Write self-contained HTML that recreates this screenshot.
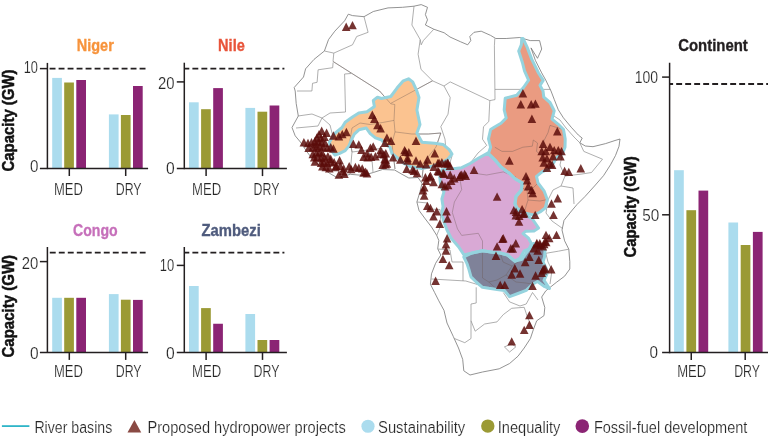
<!DOCTYPE html>
<html lang="en"><head><meta charset="utf-8"><title>Hydropower capacity in African river basins</title>
<style>html,body{margin:0;padding:0;background:#fff;}body{width:768px;height:437px;overflow:hidden;font-family:"Liberation Sans", sans-serif;}svg{display:block;}</style>
</head><body>
<svg width="768" height="437" viewBox="0 0 768 437" font-family='"Liberation Sans", sans-serif'>
<rect width="768" height="437" fill="#ffffff"/>
<polygon points="294.2,87.5 303.5,77 305.6,68.8 314,59.4 324.4,51 328.5,39.6 334.8,31.2 344.6,20.8 348.3,14.2 352.5,15.6 364,16.7 373.3,11.5 388,7.9 402.5,7.3 414,6.2 421.2,4.6 427.5,7.3 425.4,14.6 427.5,19.8 425.4,25 433.8,29.2 444.2,32.8 450,37 460.4,41.7 467.7,44.8 470.8,40.6 469.8,36.5 474,32.3 481.2,31.2 490.6,35.4 495.8,38.5 506.2,38.5 519.8,37.5 530.2,40.6 539.6,40.6 541.7,49 537.5,58.3 531,47.9 535.4,60.4 541.7,72.9 545.8,80.2 551,91 554.2,99.3 558.3,109.8 563.4,117.8 571.2,127.2 578.3,135 582.2,138.1 579.8,142.8 585.3,146 593,146.7 605.6,143.6 615,140.5 620,139 619,146.3 615.5,155.5 610.5,164.8 603.5,175.7 594.5,186 585,196.5 577,204.5 571.5,211 564,220.4 562,230 564.6,240.8 568.8,249.2 569.8,261.7 569.8,269 564.6,276.2 556.2,282.5 545.8,290.8 541.7,297 544.8,307.5 544,315.6 536.7,320.8 533.5,329.2 530.4,338.5 524.2,348 518,356.2 509.6,363.5 499.2,368.8 482.5,372 470,375 463.8,370.8 462.7,359.4 458.5,348 453.3,336.5 447,323 444,310.4 438.8,300.8 434.6,292.5 430.4,284.2 431.5,273.8 435.6,263.3 440.8,255 437.7,248.8 438.8,240.4 436.7,235.4 431.5,227 425.2,218.8 419,210.4 416.9,202 420,191.7 422,183.3 418,177.5 408.8,178 402,174.3 394.6,170 382.5,169.5 373.3,172.5 363,175.4 350.4,174.3 336.9,177.5 329.6,173.3 321.2,167 313,159.8 306.7,151.4 300.4,142 295.2,135.8 292,127.5 298.3,116 296.2,103.5 295.2,91" fill="#ffffff" stroke="#777777" stroke-width="0.8" stroke-linejoin="round"/>
<polyline points="364,16.7 368.1,32.3 356.7,36.5 352.5,44.8 333.8,53.1 333,61.5" fill="none" stroke="#8c8c8c" stroke-width="0.7" stroke-linejoin="round"/>
<polyline points="324.4,51 333.8,53.1" fill="none" stroke="#8c8c8c" stroke-width="0.7" stroke-linejoin="round"/>
<polyline points="333.1,61.5 379.6,91 390.5,103.5 432.5,80.8" fill="none" stroke="#8c8c8c" stroke-width="0.7" stroke-linejoin="round"/>
<polyline points="333.1,62.5 332.7,67.7 318.1,69.8 317.1,82.3 312.5,83.3 311.9,91 297,91" fill="none" stroke="#8c8c8c" stroke-width="0.7" stroke-linejoin="round"/>
<polyline points="344.6,74 351,73.5" fill="none" stroke="#8c8c8c" stroke-width="0.7" stroke-linejoin="round"/>
<polyline points="344.6,74 345.5,112 330,113 322,118" fill="none" stroke="#8c8c8c" stroke-width="0.7" stroke-linejoin="round"/>
<polyline points="414,6.2 411.9,25 420.2,39.6 421.2,44.8 423.3,40.6 433.8,29.2" fill="none" stroke="#8c8c8c" stroke-width="0.7" stroke-linejoin="round"/>
<polyline points="420.2,39.6 418.1,54.2 421,69.4 432.5,80.8 444,86 450.2,81.9 489.8,100.6 495,99.6 494.4,45.8 494.8,38.5" fill="none" stroke="#8c8c8c" stroke-width="0.7" stroke-linejoin="round"/>
<polyline points="495,89.4 550.5,89.4" fill="none" stroke="#8c8c8c" stroke-width="0.7" stroke-linejoin="round"/>
<polyline points="444,86 450.2,97.5 448,114.2 440.8,126.7 445,139.2 446,151" fill="none" stroke="#8c8c8c" stroke-width="0.7" stroke-linejoin="round"/>
<polyline points="489.8,100.6 488.8,121.5 483.5,126.7 482.5,139.2 486.7,145.4 478,153" fill="none" stroke="#8c8c8c" stroke-width="0.7" stroke-linejoin="round"/>
<polyline points="390.8,103.8 394.8,104.5 394,120.4 382.5,122.5 370,124.5 360,123 352,128" fill="none" stroke="#8c8c8c" stroke-width="0.7" stroke-linejoin="round"/>
<polyline points="395,131.9 411.7,134 428.3,134 440.8,133" fill="none" stroke="#8c8c8c" stroke-width="0.7" stroke-linejoin="round"/>
<polyline points="394,120.4 395,131.9 392,143 393,153 395,169" fill="none" stroke="#8c8c8c" stroke-width="0.7" stroke-linejoin="round"/>
<polyline points="298,116 312,114 322,118 318,126 296,128" fill="none" stroke="#8c8c8c" stroke-width="0.7" stroke-linejoin="round"/>
<polyline points="322,118 330,125 333,137" fill="none" stroke="#8c8c8c" stroke-width="0.7" stroke-linejoin="round"/>
<polyline points="352,128 350,140 352,152 350,174" fill="none" stroke="#8c8c8c" stroke-width="0.7" stroke-linejoin="round"/>
<polyline points="352,152 368,150 372,160 373,172" fill="none" stroke="#8c8c8c" stroke-width="0.7" stroke-linejoin="round"/>
<polyline points="372,150 382,148 383,169" fill="none" stroke="#8c8c8c" stroke-width="0.7" stroke-linejoin="round"/>
<polyline points="440.8,133 436,147 424,162 422,178" fill="none" stroke="#8c8c8c" stroke-width="0.7" stroke-linejoin="round"/>
<polyline points="446,151 452,156 449,166 441.9,169.8" fill="none" stroke="#8c8c8c" stroke-width="0.7" stroke-linejoin="round"/>
<polyline points="478,153 470,163.5 461.7,167.7" fill="none" stroke="#8c8c8c" stroke-width="0.7" stroke-linejoin="round"/>
<polyline points="416.9,202 428,203 428,209 440,209.5" fill="none" stroke="#8c8c8c" stroke-width="0.7" stroke-linejoin="round"/>
<polyline points="440,209.5 441,225 436.7,235.4" fill="none" stroke="#8c8c8c" stroke-width="0.7" stroke-linejoin="round"/>
<polyline points="431.5,279 465.8,281 482.5,286" fill="none" stroke="#8c8c8c" stroke-width="0.7" stroke-linejoin="round"/>
<polyline points="476.2,287.3 476.2,303 471,304 471,338.5 464.8,342.7 454.4,338.5" fill="none" stroke="#8c8c8c" stroke-width="0.7" stroke-linejoin="round"/>
<polyline points="471,320.8 475.2,331.2 484.6,324 497,321.9 503.3,314.6 511.7,308.3 524.2,307.3" fill="none" stroke="#8c8c8c" stroke-width="0.7" stroke-linejoin="round"/>
<polyline points="503.3,292.5 509.6,301.9 520,306 526.2,304 532.5,292.5" fill="none" stroke="#8c8c8c" stroke-width="0.7" stroke-linejoin="round"/>
<polyline points="524.2,307.3 527.3,316.7 532.5,329.2" fill="none" stroke="#8c8c8c" stroke-width="0.7" stroke-linejoin="round"/>
<polyline points="504.4,346.9 511.7,343.8 515.8,346.9 509.6,352 504.4,346.9" fill="none" stroke="#8c8c8c" stroke-width="0.7" stroke-linejoin="round"/>
<polyline points="545.8,253.3 558.3,251.2 568.8,249.2" fill="none" stroke="#8c8c8c" stroke-width="0.7" stroke-linejoin="round"/>
<polyline points="545.8,253.3 548,262 552,270 550,284" fill="none" stroke="#8c8c8c" stroke-width="0.7" stroke-linejoin="round"/>
<polyline points="563,228.8 552,221 546,213" fill="none" stroke="#8c8c8c" stroke-width="0.7" stroke-linejoin="round"/>
<polyline points="546,213 548,200 553,190 561,186 573,188 574,204" fill="none" stroke="#8c8c8c" stroke-width="0.7" stroke-linejoin="round"/>
<polyline points="561,186 565,176 582,174 591.5,172.5 602.5,159.2 583.8,151.4 579.8,142.8" fill="none" stroke="#8c8c8c" stroke-width="0.7" stroke-linejoin="round"/>
<polyline points="562.5,153.5 560,165 565,176" fill="none" stroke="#8c8c8c" stroke-width="0.7" stroke-linejoin="round"/>
<polyline points="551,114 560,120 566,128 574,137 579.8,142.8" fill="none" stroke="#8c8c8c" stroke-width="0.7" stroke-linejoin="round"/>
<polyline points="463,281 463,262 452,262 450,250 438,249" fill="none" stroke="#8c8c8c" stroke-width="0.7" stroke-linejoin="round"/>
<polyline points="532.5,292.5 538,300" fill="none" stroke="#8c8c8c" stroke-width="0.7" stroke-linejoin="round"/>
<polygon points="408.5,78.8 412.7,81.9 416.9,91.2 419,97.5 416.9,110 420,124.6 416.9,133 422,142.3 434.6,143.3 443,144.4 449.2,149.6 452,154 448,159 441,163 433,166 422,168.5 410,166.5 404,163.5 398.3,158.7 392,153.5 390,147.2 384.8,144.1 381.7,140 375.4,137.9 370.2,133.7 366.2,128 358.9,129.8 354.3,134.1 351.6,139.6 348.9,146 345.2,150.6 339.7,153.4 335,155 331,150 329.5,142 334.8,133.5 342,127.5 345.2,122.2 352.5,117 358.8,112.9 367,111.8 374.4,106.6 373.3,100.4 377.5,97.2 381.5,98.5 390.8,96.5 397,88.1 403.3,80.8" fill="#fbc390"/>
<polygon points="441.9,169.8 453.3,168.8 461.7,167.7 470,163.5 478.3,158.3 487.7,153.1 494.8,159.8 501,167 509.4,173.3 515,178.8 522.3,183 521.2,190.2 516,196.5 515,203.8 517,209 524,214 532.4,219 538.6,228 534,231 526,231.2 523,233.6 528.5,238.2 531.5,243.7 529,249 524.2,250.8 520,258.1 514.8,261.2 507.5,255 500.2,253 490.8,251.9 482.5,250.8 472,253 464,255 458.5,246.7 451.2,238.3 447,230 444,221.9 441.9,214.6 443,206.2 441.9,199 444,191.7 440.8,186.5 439.8,177" fill="#d9a9d5"/>
<polygon points="463.8,257 472,253 482.5,250.8 490.8,251.9 500.2,253 507.5,255 514.8,261.2 522,259.2 526.2,253 530.4,247.7 533.5,243.5 540.8,244.5 545,250.8 544.5,257 543,262 546,268 547,273.8 544,280.4 549.5,288.5 544.8,286.7 537.5,281.5 532.5,284.2 526.2,290.4 518,293.5 509.6,296.7 504.4,290.4 497,289.4 488.8,288.3 482.5,287.3 476.2,282 471,276.9 469,269.6 466.9,263.3" fill="#7f8299"/>
<polygon points="521.8,38.5 523,38.5 527,46.9 531.8,59.4 538.5,73 543.2,80.4 540,85.4 543,91 543.8,97.2 550,102.5 554.2,110.8 552,119.1 558.3,124.3 563.5,129.5 565.2,138.9 565,147.2 562.5,153.5 556.2,157.7 554.2,161.8 550,168 541.7,172.2 536.5,176.4 538,183 544.2,191.2 547.3,199.6 545.2,208 540,212 534,215 524,213 517,208 515,203.8 516,196.5 521.2,190.2 522.3,183 515,178.8 509.4,173.3 501,167 494.8,159.8 488.5,153.5 490.6,147.2 488.5,138.9 490.6,129.5 495,126.7 501,123.3 506.2,118 504.2,109.8 505.2,98.3 516.7,95.2 523.5,87.5 528.6,80.2 524.5,70.8 522.4,62.5 518.7,51 521.3,44.8" fill="#ea9b81"/>
<polyline points="494.8,147.2 502,151.4 512.5,151.4 522.9,147.2 532.3,146.2 533.3,140 537.5,143 536.5,151.4 541.7,155.6" fill="none" stroke="#6b5a55" stroke-opacity="0.55" stroke-width="0.7" stroke-linejoin="round"/>
<polyline points="563.5,129.5 550,125.4 548,132.7 543.8,141 541.7,155.6 546,163 553,166" fill="none" stroke="#6b5a55" stroke-opacity="0.55" stroke-width="0.7" stroke-linejoin="round"/>
<polyline points="459.6,177 461.7,189.6 454.4,202 452.3,212.5 457.5,229 461.7,235.4 478.3,233.3 482.5,241 482.5,250.8" fill="none" stroke="#6b5a55" stroke-opacity="0.55" stroke-width="0.7" stroke-linejoin="round"/>
<polyline points="472,173 486.7,175 503.3,171.9 515.8,177" fill="none" stroke="#6b5a55" stroke-opacity="0.55" stroke-width="0.7" stroke-linejoin="round"/>
<polyline points="482.5,250.8 482.5,278 488.8,282 497,289.4" fill="none" stroke="#6b5a55" stroke-opacity="0.55" stroke-width="0.7" stroke-linejoin="round"/>
<polyline points="500.2,253 503,262 512,266 522,259.2" fill="none" stroke="#6b5a55" stroke-opacity="0.55" stroke-width="0.7" stroke-linejoin="round"/>
<polyline points="512,266 506,275 497,280 488.8,282" fill="none" stroke="#6b5a55" stroke-opacity="0.55" stroke-width="0.7" stroke-linejoin="round"/>
<polyline points="506,275 516,282 526,283 532.5,284.2" fill="none" stroke="#6b5a55" stroke-opacity="0.55" stroke-width="0.7" stroke-linejoin="round"/>
<polyline points="333.1,61.5 379.6,91 390.5,103.5 432.5,80.8" fill="none" stroke="#6b5a55" stroke-opacity="0.55" stroke-width="0.7" stroke-linejoin="round"/>
<polyline points="390.8,103.8 394.8,104.5 394,120.4 382.5,122.5 370,124.5 360,123 352,128" fill="none" stroke="#6b5a55" stroke-opacity="0.55" stroke-width="0.7" stroke-linejoin="round"/>
<polyline points="395,131.9 411.7,134 428.3,134 440.8,133" fill="none" stroke="#6b5a55" stroke-opacity="0.55" stroke-width="0.7" stroke-linejoin="round"/>
<polyline points="394,120.4 395,131.9 392,143 393,153 395,169" fill="none" stroke="#6b5a55" stroke-opacity="0.55" stroke-width="0.7" stroke-linejoin="round"/>
<polyline points="440.8,133 436,147 424,162 422,178" fill="none" stroke="#6b5a55" stroke-opacity="0.55" stroke-width="0.7" stroke-linejoin="round"/>
<polyline points="352,128 350,140 352,152" fill="none" stroke="#6b5a55" stroke-opacity="0.55" stroke-width="0.7" stroke-linejoin="round"/>
<polyline points="521,187.5 527,190 533,188 538,183" fill="none" stroke="#6b5a55" stroke-opacity="0.55" stroke-width="0.7" stroke-linejoin="round"/>
<polyline points="527,190 528,200 524,213" fill="none" stroke="#6b5a55" stroke-opacity="0.55" stroke-width="0.7" stroke-linejoin="round"/>
<polyline points="528,200 540,201 547.3,199.6" fill="none" stroke="#6b5a55" stroke-opacity="0.55" stroke-width="0.7" stroke-linejoin="round"/>
<polygon points="408.5,78.8 412.7,81.9 416.9,91.2 419,97.5 416.9,110 420,124.6 416.9,133 422,142.3 434.6,143.3 443,144.4 449.2,149.6 452,154 448,159 441,163 433,166 422,168.5 410,166.5 404,163.5 398.3,158.7 392,153.5 390,147.2 384.8,144.1 381.7,140 375.4,137.9 370.2,133.7 366.2,128 358.9,129.8 354.3,134.1 351.6,139.6 348.9,146 345.2,150.6 339.7,153.4 335,155 331,150 329.5,142 334.8,133.5 342,127.5 345.2,122.2 352.5,117 358.8,112.9 367,111.8 374.4,106.6 373.3,100.4 377.5,97.2 381.5,98.5 390.8,96.5 397,88.1 403.3,80.8" fill="none" stroke="#95d3de" stroke-width="3" stroke-linejoin="round"/>
<polygon points="441.9,169.8 453.3,168.8 461.7,167.7 470,163.5 478.3,158.3 487.7,153.1 494.8,159.8 501,167 509.4,173.3 515,178.8 522.3,183 521.2,190.2 516,196.5 515,203.8 517,209 524,214 532.4,219 538.6,228 534,231 526,231.2 523,233.6 528.5,238.2 531.5,243.7 529,249 524.2,250.8 520,258.1 514.8,261.2 507.5,255 500.2,253 490.8,251.9 482.5,250.8 472,253 464,255 458.5,246.7 451.2,238.3 447,230 444,221.9 441.9,214.6 443,206.2 441.9,199 444,191.7 440.8,186.5 439.8,177" fill="none" stroke="#95d3de" stroke-width="3" stroke-linejoin="round"/>
<polygon points="463.8,257 472,253 482.5,250.8 490.8,251.9 500.2,253 507.5,255 514.8,261.2 522,259.2 526.2,253 530.4,247.7 533.5,243.5 540.8,244.5 545,250.8 544.5,257 543,262 546,268 547,273.8 544,280.4 549.5,288.5 544.8,286.7 537.5,281.5 532.5,284.2 526.2,290.4 518,293.5 509.6,296.7 504.4,290.4 497,289.4 488.8,288.3 482.5,287.3 476.2,282 471,276.9 469,269.6 466.9,263.3" fill="none" stroke="#95d3de" stroke-width="3" stroke-linejoin="round"/>
<polygon points="521.8,38.5 523,38.5 527,46.9 531.8,59.4 538.5,73 543.2,80.4 540,85.4 543,91 543.8,97.2 550,102.5 554.2,110.8 552,119.1 558.3,124.3 563.5,129.5 565.2,138.9 565,147.2 562.5,153.5 556.2,157.7 554.2,161.8 550,168 541.7,172.2 536.5,176.4 538,183 544.2,191.2 547.3,199.6 545.2,208 540,212 534,215 524,213 517,208 515,203.8 516,196.5 521.2,190.2 522.3,183 515,178.8 509.4,173.3 501,167 494.8,159.8 488.5,153.5 490.6,147.2 488.5,138.9 490.6,129.5 495,126.7 501,123.3 506.2,118 504.2,109.8 505.2,98.3 516.7,95.2 523.5,87.5 528.6,80.2 524.5,70.8 522.4,62.5 518.7,51 521.3,44.8" fill="none" stroke="#95d3de" stroke-width="3" stroke-linejoin="round"/>
<g fill="#5a0c0a" fill-opacity="0.84">
<polygon points="341.9,31.0 350.5,31.0 346.2,22.6"/>
<polygon points="348.2,29.3 356.8,29.3 352.5,20.9"/>
<polygon points="371.1,160.5 379.7,160.5 375.4,152.1"/>
<polygon points="376.3,154.3 384.9,154.3 380.6,145.9"/>
<polygon points="379.5,158.4 388.1,158.4 383.8,150.0"/>
<polygon points="381.5,157.4 390.1,157.4 385.8,149.0"/>
<polygon points="381.5,163.7 390.1,163.7 385.8,155.3"/>
<polygon points="382.6,167.8 391.2,167.8 386.9,159.4"/>
<polygon points="378.4,168.9 387.0,168.9 382.7,160.5"/>
<polygon points="380.5,147.0 389.1,147.0 384.8,138.6"/>
<polygon points="382.6,141.8 391.2,141.8 386.9,133.4"/>
<polygon points="386.7,144.9 395.3,144.9 391.0,136.5"/>
<polygon points="388.8,161.6 397.4,161.6 393.1,153.2"/>
<polygon points="368.0,118.9 376.6,118.9 372.3,110.5"/>
<polygon points="370.1,123.0 378.7,123.0 374.4,114.6"/>
<polygon points="373.2,129.3 381.8,129.3 377.5,120.9"/>
<polygon points="376.3,132.4 384.9,132.4 380.6,124.0"/>
<polygon points="400.3,154.3 408.9,154.3 404.6,145.9"/>
<polygon points="404.5,156.4 413.1,156.4 408.8,148.0"/>
<polygon points="396.1,163.7 404.7,163.7 400.4,155.3"/>
<polygon points="403.4,164.7 412.0,164.7 407.7,156.3"/>
<polygon points="411.7,164.7 420.3,164.7 416.0,156.3"/>
<polygon points="415.9,167.8 424.5,167.8 420.2,159.4"/>
<polygon points="423.2,163.7 431.8,163.7 427.5,155.3"/>
<polygon points="411.7,144.9 420.3,144.9 416.0,136.5"/>
<polygon points="430.5,157.4 439.1,157.4 434.8,149.0"/>
<polygon points="434.7,166.8 443.3,166.8 439.0,158.4"/>
<polygon points="440.9,167.8 449.5,167.8 445.2,159.4"/>
<polygon points="402.4,173.0 411.0,173.0 406.7,164.6"/>
<polygon points="409.7,175.1 418.3,175.1 414.0,166.7"/>
<polygon points="412.8,177.2 421.4,177.2 417.1,168.8"/>
<polygon points="421.1,181.4 429.7,181.4 425.4,173.0"/>
<polygon points="425.3,181.4 433.9,181.4 429.6,173.0"/>
<polygon points="429.5,170.9 438.1,170.9 433.8,162.5"/>
<polygon points="433.6,175.1 442.2,175.1 437.9,166.7"/>
<polygon points="438.8,177.2 447.4,177.2 443.1,168.8"/>
<polygon points="443.0,166.8 451.6,166.8 447.3,158.4"/>
<polygon points="518.6,97.4 527.2,97.4 522.9,89.0"/>
<polygon points="516.5,108.4 525.1,108.4 520.8,100.0"/>
<polygon points="526.9,108.4 535.5,108.4 531.2,100.0"/>
<polygon points="531.1,107.8 539.7,107.8 535.4,99.4"/>
<polygon points="527.6,123.0 536.2,123.0 531.9,114.6"/>
<polygon points="553.0,135.5 561.6,135.5 557.3,127.1"/>
<polygon points="538.8,148.0 547.4,148.0 543.1,139.6"/>
<polygon points="545.7,151.1 554.3,151.1 550.0,142.7"/>
<polygon points="537.4,155.3 546.0,155.3 541.7,146.9"/>
<polygon points="541.5,155.3 550.1,155.3 545.8,146.9"/>
<polygon points="549.9,154.3 558.5,154.3 554.2,145.9"/>
<polygon points="554.0,154.3 562.6,154.3 558.3,145.9"/>
<polygon points="557.2,155.3 565.8,155.3 561.5,146.9"/>
<polygon points="538.4,161.6 547.0,161.6 542.7,153.2"/>
<polygon points="542.6,162.6 551.2,162.6 546.9,154.2"/>
<polygon points="548.8,160.5 557.4,160.5 553.1,152.1"/>
<polygon points="556.1,160.5 564.7,160.5 560.4,152.1"/>
<polygon points="539.5,166.8 548.1,166.8 543.8,158.4"/>
<polygon points="545.7,167.8 554.3,167.8 550.0,159.4"/>
<polygon points="542.6,172.0 551.2,172.0 546.9,163.6"/>
<polygon points="547.8,168.9 556.4,168.9 552.1,160.5"/>
<polygon points="505.1,164.7 513.7,164.7 509.4,156.3"/>
<polygon points="521.7,180.3 530.3,180.3 526.0,171.9"/>
<polygon points="522.8,184.5 531.4,184.5 527.1,176.1"/>
<polygon points="560.3,175.1 568.9,175.1 564.6,166.7"/>
<polygon points="564.5,176.1 573.1,176.1 568.8,167.7"/>
<polygon points="576.5,172.4 585.1,172.4 580.8,164.0"/>
<polygon points="469.7,174.1 478.3,174.1 474.0,165.7"/>
<polygon points="460.3,178.2 468.9,178.2 464.6,169.8"/>
<polygon points="456.1,179.3 464.7,179.3 460.4,170.9"/>
<polygon points="449.9,182.4 458.5,182.4 454.2,174.0"/>
<polygon points="445.7,169.9 454.3,169.9 450.0,161.5"/>
<polygon points="376.1,158.1 384.7,158.1 380.4,149.7"/>
<polygon points="380.3,163.3 388.9,163.3 384.6,154.9"/>
<polygon points="381.3,168.5 389.9,168.5 385.6,160.1"/>
<polygon points="401.1,156.0 409.7,156.0 405.4,147.6"/>
<polygon points="403.2,162.2 411.8,162.2 407.5,153.8"/>
<polygon points="408.4,173.7 417.0,173.7 412.7,165.3"/>
<polygon points="421.9,168.5 430.5,168.5 426.2,160.1"/>
<polygon points="433.4,167.4 442.0,167.4 437.7,159.0"/>
<polygon points="437.6,166.4 446.2,166.4 441.9,158.0"/>
<polygon points="443.8,167.4 452.4,167.4 448.1,159.0"/>
<polygon points="434.5,175.8 443.1,175.8 438.8,167.4"/>
<polygon points="439.7,177.9 448.3,177.9 444.0,169.5"/>
<polygon points="445.9,178.9 454.5,178.9 450.2,170.5"/>
<polygon points="426.1,179.9 434.7,179.9 430.4,171.5"/>
<polygon points="421.9,185.1 430.5,185.1 426.2,176.7"/>
<polygon points="429.2,186.2 437.8,186.2 433.5,177.8"/>
<polygon points="419.9,191.4 428.5,191.4 424.2,183.0"/>
<polygon points="418.8,194.5 427.4,194.5 423.1,186.1"/>
<polygon points="419.9,199.7 428.5,199.7 424.2,191.3"/>
<polygon points="437.6,188.3 446.2,188.3 441.9,179.9"/>
<polygon points="440.7,190.4 449.3,190.4 445.0,182.0"/>
<polygon points="443.8,189.3 452.4,189.3 448.1,180.9"/>
<polygon points="446.9,185.1 455.5,185.1 451.2,176.7"/>
<polygon points="455.3,181.0 463.9,181.0 459.6,172.6"/>
<polygon points="457.4,178.9 466.0,178.9 461.7,170.5"/>
<polygon points="461.5,179.9 470.1,179.9 465.8,171.5"/>
<polygon points="492.8,200.8 501.4,200.8 497.1,192.4"/>
<polygon points="423.0,210.1 431.6,210.1 427.3,201.7"/>
<polygon points="426.1,212.2 434.7,212.2 430.4,203.8"/>
<polygon points="432.4,215.4 441.0,215.4 436.7,207.0"/>
<polygon points="429.2,220.6 437.8,220.6 433.5,212.2"/>
<polygon points="435.5,227.9 444.1,227.9 439.8,219.5"/>
<polygon points="442.2,215.4 450.8,215.4 446.5,207.0"/>
<polygon points="443.2,222.7 451.8,222.7 447.5,214.3"/>
<polygon points="442.8,242.4 451.4,242.4 447.1,234.0"/>
<polygon points="509.5,214.3 518.1,214.3 513.8,205.9"/>
<polygon points="511.5,219.5 520.1,219.5 515.8,211.1"/>
<polygon points="514.7,225.8 523.3,225.8 519.0,217.4"/>
<polygon points="517.8,213.3 526.4,213.3 522.1,204.9"/>
<polygon points="519.9,217.4 528.5,217.4 524.2,209.0"/>
<polygon points="524.0,190.4 532.6,190.4 528.3,182.0"/>
<polygon points="499.0,242.4 507.6,242.4 503.3,234.0"/>
<polygon points="441.7,248.5 450.3,248.5 446.0,240.1"/>
<polygon points="441.7,254.7 450.3,254.7 446.0,246.3"/>
<polygon points="438.6,263.1 447.2,263.1 442.9,254.7"/>
<polygon points="444.9,269.3 453.5,269.3 449.2,260.9"/>
<polygon points="431.3,284.9 439.9,284.9 435.6,276.5"/>
<polygon points="492.8,250.6 501.4,250.6 497.1,242.2"/>
<polygon points="511.5,247.4 520.1,247.4 515.8,239.0"/>
<polygon points="508.4,252.7 517.0,252.7 512.7,244.3"/>
<polygon points="491.7,259.9 500.3,259.9 496.0,251.5"/>
<polygon points="525.1,261.0 533.7,261.0 529.4,252.6"/>
<polygon points="520.9,266.2 529.5,266.2 525.2,257.8"/>
<polygon points="510.5,272.4 519.1,272.4 514.8,264.0"/>
<polygon points="507.4,278.7 516.0,278.7 511.7,270.3"/>
<polygon points="515.7,277.7 524.3,277.7 520.0,269.3"/>
<polygon points="495.9,289.1 504.5,289.1 500.2,280.7"/>
<polygon points="500.5,289.1 509.1,289.1 504.8,280.7"/>
<polygon points="528.2,290.1 536.8,290.1 532.5,281.7"/>
<polygon points="531.3,279.7 539.9,279.7 535.6,271.3"/>
<polygon points="534.5,264.1 543.1,264.1 538.8,255.7"/>
<polygon points="532.4,248.5 541.0,248.5 536.7,240.1"/>
<polygon points="535.5,247.4 544.1,247.4 539.8,239.0"/>
<polygon points="538.6,250.6 547.2,250.6 542.9,242.2"/>
<polygon points="540.7,245.4 549.3,245.4 545.0,237.0"/>
<polygon points="541.7,239.1 550.3,239.1 546.0,230.7"/>
<polygon points="544.9,242.2 553.5,242.2 549.2,233.8"/>
<polygon points="552.2,239.1 560.8,239.1 556.5,230.7"/>
<polygon points="538.6,274.5 547.2,274.5 542.9,266.1"/>
<polygon points="540.7,272.4 549.3,272.4 545.0,264.0"/>
<polygon points="546.9,273.5 555.5,273.5 551.2,265.1"/>
<polygon points="525.1,319.3 533.7,319.3 529.4,310.9"/>
<polygon points="533.4,254.7 542.0,254.7 537.7,246.3"/>
<polygon points="527.4,194.1 536.0,194.1 531.7,185.7"/>
<polygon points="528.4,197.2 537.0,197.2 532.7,188.8"/>
<polygon points="553.4,202.4 562.0,202.4 557.7,194.0"/>
<polygon points="547.2,207.7 555.8,207.7 551.5,199.3"/>
<polygon points="511.7,216.0 520.3,216.0 516.0,207.6"/>
<polygon points="514.9,220.1 523.5,220.1 519.2,211.7"/>
<polygon points="519.0,218.1 527.6,218.1 523.3,209.7"/>
<polygon points="530.9,219.1 539.5,219.1 535.2,210.7"/>
<polygon points="549.2,219.1 557.8,219.1 553.5,210.7"/>
<polygon points="532.6,247.2 541.2,247.2 536.9,238.8"/>
<polygon points="535.7,249.3 544.3,249.3 540.0,240.9"/>
<polygon points="539.9,248.3 548.5,248.3 544.2,239.9"/>
<polygon points="541.9,246.2 550.5,246.2 546.2,237.8"/>
<polygon points="498.2,243.1 506.8,243.1 502.5,234.7"/>
<polygon points="529.5,252.4 538.1,252.4 533.8,244.0"/>
<polygon points="506.5,252.4 515.1,252.4 510.8,244.0"/>
<polygon points="525.1,328.9 533.7,328.9 529.4,320.5"/>
<polygon points="519.9,334.1 528.5,334.1 524.2,325.7"/>
<polygon points="507.4,345.6 516.0,345.6 511.7,337.2"/>
<polygon points="539.5,272.9 548.1,272.9 543.8,264.5"/>
<polygon points="537.4,277.0 546.0,277.0 541.7,268.6"/>
<polygon points="317.4,134.9 326.0,134.9 321.7,126.5"/>
<polygon points="322.3,136.9 330.9,136.9 326.6,128.5"/>
<polygon points="314.7,138.3 323.3,138.3 319.0,129.9"/>
<polygon points="329.1,139.7 337.7,139.7 333.4,131.3"/>
<polygon points="334.6,140.4 343.2,140.4 338.9,132.0"/>
<polygon points="338.0,138.3 346.6,138.3 342.3,129.9"/>
<polygon points="342.1,136.2 350.7,136.2 346.4,127.8"/>
<polygon points="312.6,141.7 321.2,141.7 316.9,133.3"/>
<polygon points="316.8,142.4 325.4,142.4 321.1,134.0"/>
<polygon points="320.2,141.0 328.8,141.0 324.5,132.6"/>
<polygon points="299.6,146.5 308.2,146.5 303.9,138.1"/>
<polygon points="303.7,147.2 312.3,147.2 308.0,138.8"/>
<polygon points="307.2,146.5 315.8,146.5 311.5,138.1"/>
<polygon points="310.6,145.2 319.2,145.2 314.9,136.8"/>
<polygon points="314.0,145.8 322.6,145.8 318.3,137.4"/>
<polygon points="317.4,146.5 326.0,146.5 321.7,138.1"/>
<polygon points="320.9,147.2 329.5,147.2 325.2,138.8"/>
<polygon points="311.3,148.6 319.9,148.6 315.6,140.2"/>
<polygon points="304.4,152.0 313.0,152.0 308.7,143.6"/>
<polygon points="308.5,151.3 317.1,151.3 312.8,142.9"/>
<polygon points="312.0,152.0 320.6,152.0 316.3,143.6"/>
<polygon points="315.4,150.6 324.0,150.6 319.7,142.2"/>
<polygon points="318.8,151.3 327.4,151.3 323.1,142.9"/>
<polygon points="322.9,152.0 331.5,152.0 327.2,143.6"/>
<polygon points="326.4,151.3 335.0,151.3 330.7,142.9"/>
<polygon points="329.1,152.7 337.7,152.7 333.4,144.3"/>
<polygon points="308.5,158.2 317.1,158.2 312.8,149.8"/>
<polygon points="312.0,156.8 320.6,156.8 316.3,148.4"/>
<polygon points="315.4,156.1 324.0,156.1 319.7,147.7"/>
<polygon points="318.1,157.5 326.7,157.5 322.4,149.1"/>
<polygon points="309.9,161.6 318.5,161.6 314.2,153.2"/>
<polygon points="313.3,160.9 321.9,160.9 317.6,152.5"/>
<polygon points="316.8,162.3 325.4,162.3 321.1,153.9"/>
<polygon points="320.2,161.6 328.8,161.6 324.5,153.2"/>
<polygon points="323.6,160.3 332.2,160.3 327.9,151.9"/>
<polygon points="326.4,163.0 335.0,163.0 330.7,154.6"/>
<polygon points="310.6,165.7 319.2,165.7 314.9,157.3"/>
<polygon points="316.8,167.1 325.4,167.1 321.1,158.7"/>
<polygon points="319.5,165.7 328.1,165.7 323.8,157.3"/>
<polygon points="322.9,167.1 331.5,167.1 327.2,158.7"/>
<polygon points="326.4,165.7 335.0,165.7 330.7,157.3"/>
<polygon points="329.8,166.4 338.4,166.4 334.1,158.0"/>
<polygon points="335.3,164.4 343.9,164.4 339.6,156.0"/>
<polygon points="331.9,169.9 340.5,169.9 336.2,161.5"/>
<polygon points="318.1,170.5 326.7,170.5 322.4,162.1"/>
<polygon points="321.6,171.2 330.2,171.2 325.9,162.8"/>
<polygon points="325.0,172.6 333.6,172.6 329.3,164.2"/>
<polygon points="331.2,171.2 339.8,171.2 335.5,162.8"/>
<polygon points="336.0,169.9 344.6,169.9 340.3,161.5"/>
<polygon points="339.4,172.6 348.0,172.6 343.7,164.2"/>
<polygon points="344.9,170.5 353.5,170.5 349.2,162.1"/>
<polygon points="346.9,173.3 355.5,173.3 351.2,164.9"/>
<polygon points="351.1,171.2 359.7,171.2 355.4,162.8"/>
<polygon points="354.5,171.9 363.1,171.9 358.8,163.5"/>
<polygon points="357.9,172.6 366.5,172.6 362.2,164.2"/>
<polygon points="361.3,176.0 369.9,176.0 365.6,167.6"/>
<polygon points="334.6,178.8 343.2,178.8 338.9,170.4"/>
<polygon points="340.1,178.1 348.7,178.1 344.4,169.7"/>
<polygon points="338.7,175.3 347.3,175.3 343.0,166.9"/>
<polygon points="359.3,176.7 367.9,176.7 363.6,168.3"/>
<polygon points="362.7,177.4 371.3,177.4 367.0,169.0"/>
<polygon points="349.0,147.9 357.6,147.9 353.3,139.5"/>
<polygon points="354.5,148.6 363.1,148.6 358.8,140.2"/>
<polygon points="357.2,154.1 365.8,154.1 361.5,145.7"/>
<polygon points="359.3,160.9 367.9,160.9 363.6,152.5"/>
<polygon points="362.7,157.5 371.3,157.5 367.0,149.1"/>
<polygon points="366.1,152.0 374.7,152.0 370.4,143.6"/>
<polygon points="368.9,150.6 377.5,150.6 373.2,142.2"/>
<polygon points="366.8,160.9 375.4,160.9 371.1,152.5"/>
<polygon points="363.4,161.6 372.0,161.6 367.7,153.2"/>
</g>
<text x="76.8" y="51.0" font-size="17" fill="#f7933b" font-weight="bold" text-anchor="start" textLength="37.02" lengthAdjust="spacingAndGlyphs" stroke="#f7933b" stroke-width="0.35">Niger</text>
<rect x="52.2" y="77.9" width="9.7" height="90.6" fill="#abdcee"/>
<rect x="64.2" y="82.5" width="9.7" height="86.0" fill="#9b9a35"/>
<rect x="76.3" y="80" width="9.7" height="88.5" fill="#8b2474"/>
<rect x="108.9" y="114.4" width="9.7" height="54.1" fill="#abdcee"/>
<rect x="120.9" y="115" width="9.7" height="53.5" fill="#9b9a35"/>
<rect x="133.0" y="86" width="9.7" height="82.5" fill="#8b2474"/>
<line x1="49.6" y1="68.6" x2="145.6" y2="68.6" stroke="#231f20" stroke-width="1.8" stroke-dasharray="5.9 3.1" stroke-dashoffset="0"/>
<line x1="47.4" y1="62.9" x2="47.4" y2="169.1" stroke="#231f20" stroke-width="1.5"/>
<line x1="39.9" y1="168.5" x2="148.1" y2="168.5" stroke="#231f20" stroke-width="1.5"/>
<line x1="39.9" y1="68.6" x2="47.4" y2="68.6" stroke="#231f20" stroke-width="1.5"/>
<text x="23.7" y="72.6" font-size="17" fill="#262626" font-weight="normal" text-anchor="start" textLength="14.23" lengthAdjust="spacingAndGlyphs" stroke="#ffffff" stroke-width="0.2">10</text>
<text x="30.1" y="172.2" font-size="17" fill="#262626" font-weight="normal" text-anchor="start" textLength="8.42" lengthAdjust="spacingAndGlyphs" stroke="#ffffff" stroke-width="0.2">0</text>
<line x1="69.3" y1="168.5" x2="69.3" y2="176.0" stroke="#231f20" stroke-width="1.5"/>
<text x="54.0" y="194.9" font-size="16" fill="#262626" font-weight="normal" text-anchor="start" textLength="28.93" lengthAdjust="spacingAndGlyphs" stroke="#ffffff" stroke-width="0.2">MED</text>
<line x1="125.7" y1="168.5" x2="125.7" y2="176.0" stroke="#231f20" stroke-width="1.5"/>
<text x="115.8" y="194.9" font-size="16" fill="#262626" font-weight="normal" text-anchor="start" textLength="25.78" lengthAdjust="spacingAndGlyphs" stroke="#ffffff" stroke-width="0.2">DRY</text>
<text x="218.1" y="51.0" font-size="17" fill="#e8543a" font-weight="bold" text-anchor="start" textLength="26.69" lengthAdjust="spacingAndGlyphs" stroke="#e8543a" stroke-width="0.35">Nile</text>
<rect x="189" y="102.3" width="9.7" height="66.3" fill="#abdcee"/>
<rect x="201.1" y="109.2" width="9.7" height="59.4" fill="#9b9a35"/>
<rect x="213.2" y="88.1" width="9.7" height="80.5" fill="#8b2474"/>
<rect x="245.4" y="107.9" width="9.7" height="60.7" fill="#abdcee"/>
<rect x="257.5" y="111.7" width="9.7" height="56.9" fill="#9b9a35"/>
<rect x="269.6" y="105.5" width="9.7" height="63.1" fill="#8b2474"/>
<line x1="184.3" y1="68.6" x2="284.4" y2="68.6" stroke="#231f20" stroke-width="1.8" stroke-dasharray="5.9 3.1" stroke-dashoffset="0.9"/>
<line x1="184.3" y1="62.7" x2="184.3" y2="169.2" stroke="#231f20" stroke-width="1.5"/>
<line x1="176.8" y1="168.6" x2="286.9" y2="168.6" stroke="#231f20" stroke-width="1.5"/>
<line x1="176.8" y1="81.9" x2="184.3" y2="81.9" stroke="#231f20" stroke-width="1.5"/>
<text x="158.0" y="88.5" font-size="17" fill="#262626" font-weight="normal" text-anchor="start" textLength="16.53" lengthAdjust="spacingAndGlyphs" stroke="#ffffff" stroke-width="0.2">20</text>
<text x="166.1" y="174.3" font-size="17" fill="#262626" font-weight="normal" text-anchor="start" textLength="8.72" lengthAdjust="spacingAndGlyphs" stroke="#ffffff" stroke-width="0.2">0</text>
<line x1="206.1" y1="168.6" x2="206.1" y2="176.1" stroke="#231f20" stroke-width="1.5"/>
<text x="192.0" y="194.9" font-size="16" fill="#262626" font-weight="normal" text-anchor="start" textLength="29.13" lengthAdjust="spacingAndGlyphs" stroke="#ffffff" stroke-width="0.2">MED</text>
<line x1="262.5" y1="168.6" x2="262.5" y2="176.1" stroke="#231f20" stroke-width="1.5"/>
<text x="253.6" y="194.9" font-size="16" fill="#262626" font-weight="normal" text-anchor="start" textLength="25.78" lengthAdjust="spacingAndGlyphs" stroke="#ffffff" stroke-width="0.2">DRY</text>
<text x="73.0" y="235.7" font-size="17" fill="#c66fba" font-weight="bold" text-anchor="start" textLength="44.61" lengthAdjust="spacingAndGlyphs" stroke="#c66fba" stroke-width="0.35">Congo</text>
<rect x="52.2" y="297.8" width="9.7" height="54.6" fill="#abdcee"/>
<rect x="64.2" y="297.8" width="9.7" height="54.6" fill="#9b9a35"/>
<rect x="76.3" y="297.8" width="9.7" height="54.6" fill="#8b2474"/>
<rect x="108.9" y="294.1" width="9.7" height="58.3" fill="#abdcee"/>
<rect x="120.9" y="299.7" width="9.7" height="52.7" fill="#9b9a35"/>
<rect x="133.0" y="299.9" width="9.7" height="52.5" fill="#8b2474"/>
<line x1="49.8" y1="252.6" x2="145.6" y2="252.6" stroke="#231f20" stroke-width="1.8" stroke-dasharray="5.9 3.1" stroke-dashoffset="0"/>
<line x1="47.4" y1="247" x2="47.4" y2="353.0" stroke="#231f20" stroke-width="1.5"/>
<line x1="39.9" y1="352.4" x2="148.1" y2="352.4" stroke="#231f20" stroke-width="1.5"/>
<line x1="39.9" y1="261.6" x2="47.4" y2="261.6" stroke="#231f20" stroke-width="1.5"/>
<text x="21.7" y="268.5" font-size="17" fill="#262626" font-weight="normal" text-anchor="start" textLength="16.53" lengthAdjust="spacingAndGlyphs" stroke="#ffffff" stroke-width="0.2">20</text>
<text x="30.1" y="358.8" font-size="17" fill="#262626" font-weight="normal" text-anchor="start" textLength="8.62" lengthAdjust="spacingAndGlyphs" stroke="#ffffff" stroke-width="0.2">0</text>
<line x1="69.3" y1="352.4" x2="69.3" y2="359.9" stroke="#231f20" stroke-width="1.5"/>
<text x="54.0" y="376.5" font-size="16" fill="#262626" font-weight="normal" text-anchor="start" textLength="28.93" lengthAdjust="spacingAndGlyphs" stroke="#ffffff" stroke-width="0.2">MED</text>
<line x1="125.7" y1="352.4" x2="125.7" y2="359.9" stroke="#231f20" stroke-width="1.5"/>
<text x="115.8" y="376.5" font-size="16" fill="#262626" font-weight="normal" text-anchor="start" textLength="25.78" lengthAdjust="spacingAndGlyphs" stroke="#ffffff" stroke-width="0.2">DRY</text>
<text x="201.5" y="235.7" font-size="17" fill="#4f5b7d" font-weight="bold" text-anchor="start" textLength="59.32" lengthAdjust="spacingAndGlyphs" stroke="#4f5b7d" stroke-width="0.35">Zambezi</text>
<rect x="189" y="286" width="9.7" height="66.4" fill="#abdcee"/>
<rect x="201.1" y="308.1" width="9.7" height="44.3" fill="#9b9a35"/>
<rect x="213.2" y="323.75" width="9.7" height="28.65" fill="#8b2474"/>
<rect x="245.4" y="314" width="9.7" height="38.4" fill="#abdcee"/>
<rect x="257.5" y="340" width="9.7" height="12.4" fill="#9b9a35"/>
<rect x="269.6" y="340" width="9.7" height="12.4" fill="#8b2474"/>
<line x1="184.3" y1="252.6" x2="284.4" y2="252.6" stroke="#231f20" stroke-width="1.8" stroke-dasharray="5.9 3.1" stroke-dashoffset="0.9"/>
<line x1="184.3" y1="247" x2="184.3" y2="353.0" stroke="#231f20" stroke-width="1.5"/>
<line x1="176.8" y1="352.4" x2="286.9" y2="352.4" stroke="#231f20" stroke-width="1.5"/>
<line x1="176.8" y1="265.4" x2="184.3" y2="265.4" stroke="#231f20" stroke-width="1.5"/>
<text x="159.8" y="270.6" font-size="17" fill="#262626" font-weight="normal" text-anchor="start" textLength="14.43" lengthAdjust="spacingAndGlyphs" stroke="#ffffff" stroke-width="0.2">10</text>
<text x="166.1" y="359.0" font-size="17" fill="#262626" font-weight="normal" text-anchor="start" textLength="8.72" lengthAdjust="spacingAndGlyphs" stroke="#ffffff" stroke-width="0.2">0</text>
<line x1="206.1" y1="352.4" x2="206.1" y2="359.9" stroke="#231f20" stroke-width="1.5"/>
<text x="192.0" y="376.5" font-size="16" fill="#262626" font-weight="normal" text-anchor="start" textLength="29.13" lengthAdjust="spacingAndGlyphs" stroke="#ffffff" stroke-width="0.2">MED</text>
<line x1="262.5" y1="352.4" x2="262.5" y2="359.9" stroke="#231f20" stroke-width="1.5"/>
<text x="253.6" y="376.5" font-size="16" fill="#262626" font-weight="normal" text-anchor="start" textLength="25.78" lengthAdjust="spacingAndGlyphs" stroke="#ffffff" stroke-width="0.2">DRY</text>
<text x="678.2" y="50.6" font-size="17" fill="#231f20" font-weight="bold" text-anchor="start" textLength="69.61" lengthAdjust="spacingAndGlyphs" stroke="#231f20" stroke-width="0.35">Continent</text>
<rect x="674.1" y="170.2" width="9.7" height="182.4" fill="#abdcee"/>
<rect x="686.4" y="210.2" width="9.7" height="142.4" fill="#9b9a35"/>
<rect x="698.5" y="190.6" width="9.7" height="162.0" fill="#8b2474"/>
<rect x="728.4" y="222.5" width="9.7" height="130.1" fill="#abdcee"/>
<rect x="740.7" y="245" width="9.7" height="107.6" fill="#9b9a35"/>
<rect x="752.9" y="231.9" width="9.7" height="120.7" fill="#8b2474"/>
<line x1="669.6" y1="84" x2="768" y2="84" stroke="#231f20" stroke-width="1.8" stroke-dasharray="5.9 3.1" stroke-dashoffset="2.4"/>
<line x1="669.6" y1="62.7" x2="669.6" y2="353.20000000000005" stroke="#231f20" stroke-width="1.5"/>
<line x1="662.1" y1="352.6" x2="768" y2="352.6" stroke="#231f20" stroke-width="1.5"/>
<line x1="662.1" y1="77.1" x2="669.6" y2="77.1" stroke="#231f20" stroke-width="1.5"/>
<text x="634.75" y="82.7" font-size="17" fill="#262626" font-weight="normal" text-anchor="start" textLength="23.33" lengthAdjust="spacingAndGlyphs" stroke="#ffffff" stroke-width="0.2">100</text>
<line x1="662.1" y1="214.8" x2="669.6" y2="214.8" stroke="#231f20" stroke-width="1.5"/>
<text x="642.3" y="220.5" font-size="17" fill="#262626" font-weight="normal" text-anchor="start" textLength="17.04" lengthAdjust="spacingAndGlyphs" stroke="#ffffff" stroke-width="0.2">50</text>
<text x="649.4" y="357.6" font-size="17" fill="#262626" font-weight="normal" text-anchor="start" textLength="8.52" lengthAdjust="spacingAndGlyphs" stroke="#ffffff" stroke-width="0.2">0</text>
<line x1="691.25" y1="352.6" x2="691.25" y2="360.1" stroke="#231f20" stroke-width="1.5"/>
<text x="677.2" y="376.5" font-size="16" fill="#262626" font-weight="normal" text-anchor="start" textLength="29.03" lengthAdjust="spacingAndGlyphs" stroke="#ffffff" stroke-width="0.2">MED</text>
<line x1="745.2" y1="352.6" x2="745.2" y2="360.1" stroke="#231f20" stroke-width="1.5"/>
<text x="734.2" y="376.5" font-size="16" fill="#262626" font-weight="normal" text-anchor="start" textLength="25.78" lengthAdjust="spacingAndGlyphs" stroke="#ffffff" stroke-width="0.2">DRY</text>
<text x="0.0" y="0" font-size="16.8" fill="#111" font-weight="bold" text-anchor="start" textLength="101.99" lengthAdjust="spacingAndGlyphs" transform="translate(14.4,171.5) rotate(-90)" stroke="#111" stroke-width="0.5">Capacity (GW)</text>
<text x="0.0" y="0" font-size="16.8" fill="#111" font-weight="bold" text-anchor="start" textLength="102.59" lengthAdjust="spacingAndGlyphs" transform="translate(14.4,357.5) rotate(-90)" stroke="#111" stroke-width="0.5">Capacity (GW)</text>
<text x="0.0" y="0" font-size="16.8" fill="#111" font-weight="bold" text-anchor="start" textLength="101.19" lengthAdjust="spacingAndGlyphs" transform="translate(636.3,257.5) rotate(-90)" stroke="#111" stroke-width="0.5">Capacity (GW)</text>
<line x1="1.9" y1="426.1" x2="29.4" y2="426.1" stroke="#2fb5c8" stroke-width="1.8"/>
<text x="34.4" y="432.6" font-size="16" fill="#262626" font-weight="normal" text-anchor="start" textLength="77.83" lengthAdjust="spacingAndGlyphs" stroke="#ffffff" stroke-width="0.2">River basins</text>
<polygon points="127.5,432.5 141.25,432.5 134.4,420" fill="#8a4a44"/>
<text x="147.5" y="432.6" font-size="16" fill="#262626" font-weight="normal" text-anchor="start" textLength="198.23" lengthAdjust="spacingAndGlyphs" stroke="#ffffff" stroke-width="0.2">Proposed hydropower projects</text>
<circle cx="368" cy="426.25" r="6.6" fill="#abdcee"/>
<text x="378.0" y="432.6" font-size="16" fill="#262626" font-weight="normal" text-anchor="start" textLength="87.28" lengthAdjust="spacingAndGlyphs" stroke="#ffffff" stroke-width="0.2">Sustainability</text>
<circle cx="487.8" cy="426.1" r="6.7" fill="#9b9a35"/>
<text x="497.75" y="432.6" font-size="16" fill="#262626" font-weight="normal" text-anchor="start" textLength="62.51" lengthAdjust="spacingAndGlyphs" stroke="#ffffff" stroke-width="0.2">Inequality</text>
<circle cx="582.3" cy="426.1" r="6.8" fill="#8b2474"/>
<text x="593.9" y="432.6" font-size="16" fill="#262626" font-weight="normal" text-anchor="start" textLength="153.51" lengthAdjust="spacingAndGlyphs" stroke="#ffffff" stroke-width="0.2">Fossil-fuel development</text>
</svg>
</body></html>
